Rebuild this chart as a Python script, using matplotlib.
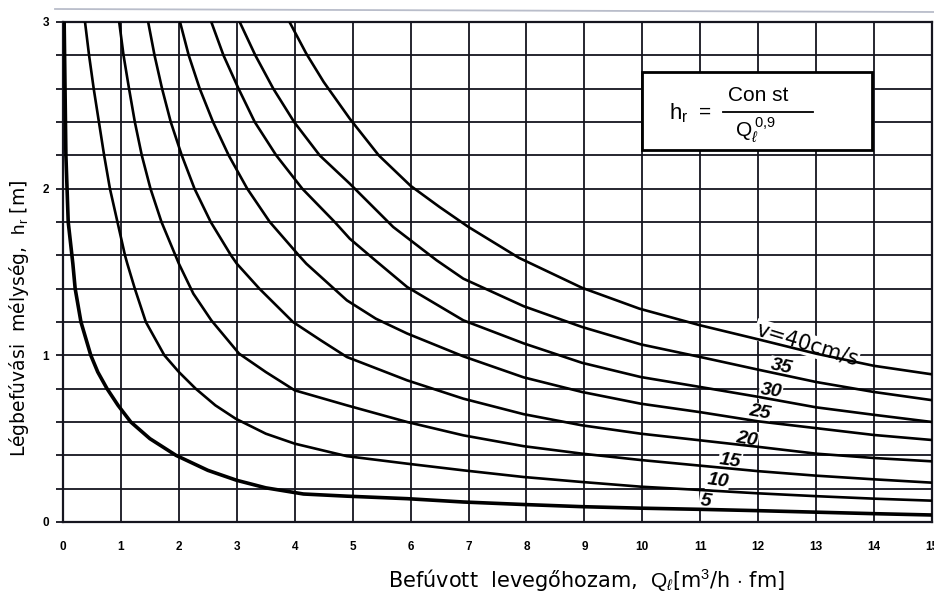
import numpy as np
import matplotlib.pyplot as plt
from matplotlib.lines import Line2D
from matplotlib.patches import Rectangle

plt.rcParams.update({'font.family': ['Liberation Sans', 'DejaVu Sans'],
                     'mathtext.fontset': 'custom',
                     'mathtext.rm': 'Liberation Sans',
                     'mathtext.it': 'Liberation Sans:italic',
                     'mathtext.bf': 'Liberation Sans:bold'})

########## DATA : air flow Q [m3/h.fm] -> penetration depth h_r [m]
velocities = [5, 10, 15, 20, 25, 30, 35, 40]   # cm/s

q_v5 = [0.02, 0.05, 0.09, 0.17, 0.21, 0.31, 0.48, 0.60, 0.76, 0.95, 1.17, 1.50, 1.95, 2.50,
        3.00, 3.50, 4.15, 4.90, 5.94, 6.91, 7.95, 8.96, 9.97, 11, 12, 13, 14, 15]
h_v5 = [3.00, 2.20, 1.80, 1.55, 1.40, 1.20, 1.00, 0.90, 0.80, 0.70, 0.60, 0.50, 0.40, 0.31,
        0.25, 0.205, 0.168, 0.155, 0.14, 0.12, 0.105, 0.092, 0.083, 0.076, 0.068, 0.059, 0.05,
        0.042]

q_v10 = [0.38, 0.45, 0.53, 0.62, 0.71, 0.81, 0.94, 1.07, 1.11, 1.24, 1.43, 1.75, 2.00, 2.29, 2.63,
         2.98, 3.50, 4.00, 4.90, 5.94, 6.91, 7.95, 8.96, 9.97, 11, 12, 13, 14, 15]
h_v10 = [3.00, 2.80, 2.60, 2.40, 2.20, 2.00, 1.80, 1.60, 1.55, 1.40, 1.20, 1.00, 0.90, 0.80, 0.70,
         0.62, 0.53, 0.47, 0.395, 0.35, 0.31, 0.27, 0.24, 0.212, 0.192, 0.172, 0.155, 0.14, 0.128]

q_v15 = [0.97, 1.045, 1.14, 1.24, 1.36, 1.51, 1.70, 1.94, 2.00, 2.25, 2.56, 3.04, 3.50, 4.00, 4.90,
         5.94, 6.91, 7.95, 8.96, 9.97, 11, 12, 13, 14, 15]
h_v15 = [3.00, 2.80, 2.60, 2.40, 2.20, 2.00, 1.80, 1.60, 1.55, 1.37, 1.21, 1.01, 0.90, 0.79, 0.70,
         0.60, 0.52, 0.455, 0.41, 0.372, 0.338, 0.305, 0.278, 0.256, 0.236]

q_v20 = [1.47, 1.58, 1.71, 1.86, 2.05, 2.27, 2.55, 2.90, 3.00, 3.39, 3.97, 4.45, 4.90, 5.94, 6.91,
         7.95, 8.96, 9.97, 11, 12, 13, 14, 15]
h_v20 = [3.00, 2.80, 2.60, 2.40, 2.20, 2.00, 1.80, 1.60, 1.55, 1.40, 1.20, 1.09, 0.99, 0.85, 0.74,
         0.647, 0.58, 0.53, 0.49, 0.451, 0.41, 0.384, 0.364]

q_v25 = [2.02, 2.17, 2.36, 2.59, 2.86, 3.18, 3.57, 4.07, 4.20, 4.90, 5.40, 5.94, 6.91, 7.95, 8.96,
         9.97, 11, 12, 13, 14, 15]
h_v25 = [3.00, 2.80, 2.60, 2.40, 2.20, 2.00, 1.80, 1.60, 1.55, 1.33, 1.22, 1.131, 0.994, 0.868,
         0.78, 0.71, 0.659, 0.604, 0.563, 0.522, 0.492]

q_v30 = [2.56, 2.77, 3.03, 3.31, 3.68, 4.13, 4.69, 4.95, 5.39, 5.94, 6.91, 7.95, 8.96, 9.97,
         11, 12, 13, 14, 15]
h_v30 = [3.00, 2.80, 2.60, 2.40, 2.20, 2.00, 1.80, 1.70, 1.57, 1.41, 1.21, 1.072, 0.955, 0.87,
         0.81, 0.751, 0.688, 0.643, 0.60]

q_v35 = [3.05, 3.32, 3.63, 3.99, 4.43, 4.95, 5.70, 6.45, 6.91, 7.95, 8.96, 9.97, 11, 12, 13, 14, 15]
h_v35 = [3.00, 2.80, 2.60, 2.40, 2.20, 2.03, 1.77, 1.57, 1.46, 1.295, 1.17, 1.066, 0.99, 0.914,
         0.84, 0.78, 0.731]

q_v40 = [3.91, 4.20, 4.50, 4.95, 5.45, 6.00, 6.50, 7.00, 7.87, 8.96, 9.95, 11, 12, 13, 14, 15]
h_v40 = [3.00, 2.81, 2.64, 2.42, 2.20, 2.017, 1.89, 1.77, 1.585, 1.405, 1.28, 1.18, 1.096, 1.01,
         0.937, 0.886]

curves = [(q_v5, h_v5), (q_v10, h_v10), (q_v15, h_v15), (q_v20, h_v20),
          (q_v25, h_v25), (q_v30, h_v30), (q_v35, h_v35), (q_v40, h_v40)]
curve_labels = ['5', '10', '15', '20', '25', '30', '35', 'v=40cm/s']

x_ticks = list(range(16))
y_ticks = [0.0, 0.2, 0.4, 0.6, 0.8, 1.0, 1.2, 1.4, 1.6, 1.8, 2.0, 2.2, 2.4, 2.6, 2.8, 3.0]
y_ticklabels = ['0', '', '', '', '', '1', '', '', '', '', '2', '', '', '', '', '3']

# label placement (data coords) and rotation
label_xy = [(11.09, 0.125), (11.30, 0.245), (11.52, 0.365), (11.80, 0.495),
            (12.02, 0.655), (12.22, 0.785), (12.40, 0.93), (12.84, 1.065)]
label_rot = [-8, -8, -8, -10, -10, -8, -12, -17]

########## FIGURE
ink = '#15151f'
W, H = 934, 594
fig = plt.figure(figsize=(W / 100, H / 100), dpi=100)
ax = fig.add_axes([63 / W, 1 - 522 / H, (932 - 63) / W, (522 - 22) / H])
ax.set_xlim(0, 15)
ax.set_ylim(0, 3)

ax.set_xticks(x_ticks)
ax.set_xticklabels([str(t) for t in x_ticks])
ax.set_yticks(y_ticks)
ax.set_yticklabels(y_ticklabels)
ax.grid(True, color=ink, lw=1.3, zorder=1)
ax.set_axisbelow(True)
ax.tick_params(axis='x', length=0, pad=14, labelsize=8.5)
ax.tick_params(axis='y', length=5, width=1.3, color=ink, pad=5, labelsize=8.5)
for lab in ax.get_xticklabels() + ax.get_yticklabels():
    lab.set_fontweight('bold')
for sp in ax.spines.values():
    sp.set_linewidth(1.6)
    sp.set_color(ink)

for i, (q, h) in enumerate(curves):
    ax.plot(q, h, color='black', lw=2.6 if i == 0 else 1.9, zorder=3,
            solid_joinstyle='round')

for i, (txt, (lx, ly), rot) in enumerate(zip(curve_labels, label_xy, label_rot)):
    if i < 7:
        style = dict(fontsize=14, fontweight='bold', style='italic')
    else:
        style = dict(fontsize=15, fontweight='normal', family='DejaVu Sans')
    ax.text(lx, ly, txt, rotation=rot, ha='center', va='center', zorder=2.5,
            bbox=dict(boxstyle='square,pad=0.05', fc='white', ec='none'), **style)

# formula box
ax.add_patch(Rectangle((10.0, 2.23), 3.97, 0.47, fc='white', ec='black', lw=2.0, zorder=4))
ax.text(10.62, 2.45, r'$\mathrm{h}_{\mathrm{r}}$', fontsize=16, ha='center', va='center', zorder=5)
ax.text(11.08, 2.46, '=', fontsize=15, ha='center', va='center', zorder=5)
ax.text(12.0, 2.56, 'Con st', fontsize=15, ha='center', va='center', zorder=5)
ax.add_line(Line2D([11.39, 12.94], [2.46, 2.46], color='black', lw=1.3, zorder=5))
ax.text(11.95, 2.35, r'$\mathrm{Q}_{\ell}^{\;\mathrm{0{,}9}}$', fontsize=15, ha='center',
        va='center', zorder=5)

# axis titles
fig.text(586 / W, 1 - 580 / H,
         r'Befúvott  levegőhozam,  $\mathrm{Q}_{\ell}$[m$^3$/h $\cdot$ fm]',
         fontsize=15, family='DejaVu Sans', ha='center', va='center')
fig.text(19 / W, 1 - 318 / H, r'Légbefúvási  mélység,  $\mathrm{h}_{\mathrm{r}}$ [m]',
         fontsize=13.5, family='DejaVu Sans', rotation=90, ha='center', va='center')

# page edge at the top
fig.add_artist(Line2D([55 / W, 1.0], [1 - 9 / H, 1 - 12 / H], color='#b9bdca', lw=1.3))

fig.savefig('out.png', dpi=100)
